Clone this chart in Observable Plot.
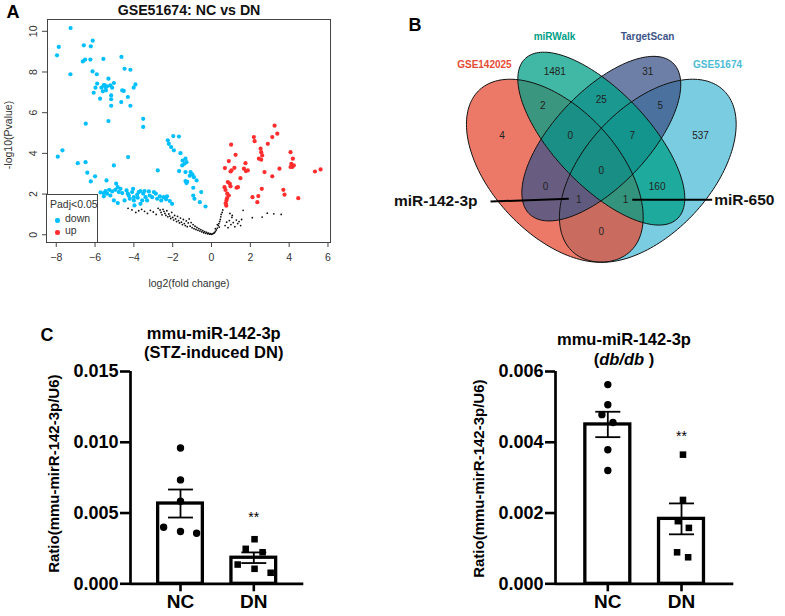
<!DOCTYPE html>
<html><head><meta charset="utf-8">
<script src="https://cdn.jsdelivr.net/npm/d3@7"></script>
<script src="https://cdn.jsdelivr.net/npm/@observablehq/plot@0.6"></script>
<style>
body{margin:0;background:#fff;}
#fig{position:relative;width:785px;height:616px;overflow:hidden;font-family:"Liberation Sans",Arial,sans-serif;background:#fff;}
.panel{position:absolute;}
.letter{position:absolute;font-weight:bold;font-size:18px;transform:translate(-50%,-50%);}
#legA{position:absolute;left:46px;top:194px;width:50px;height:47px;border:1px solid #444;background:#fff;font-size:10.5px;color:#333;}
#legA div{position:absolute;white-space:nowrap;}
#legA span.d{display:inline-block;width:4.5px;height:4.5px;border-radius:50%;position:absolute;left:8px;top:4px;}
</style></head><body><div id="fig"></div>
<script>
// ---------- Panel A data: volcano (log2FC, -log10 P) ----------
const volcanoTitle = "GSE51674: NC vs DN";
const xTicksA = [-8, -6, -4, -2, 0, 2, 4, 6];
const yTicksA = [0, 2, 4, 6, 8, 10];
const downPts = [
 [-7.26,10.16],[-7.87,9.23],[-7.96,8.82],[-6.12,9.54],[-6.22,9.26],[-6.58,9.31],[-6.63,8.52],[-6.51,8.61],[-6.24,8.61],
 [-5.57,8.64],[-4.64,8.74],[-4.48,8.16],[-4.18,8.11],[-7.27,7.89],[-6.13,8.03],[-5.91,7.89],[-5.31,7.67],[-5.03,7.46],
 [-5.89,7.43],[-5.98,7.23],[-5.67,7.23],[-5.50,7.34],[-5.38,7.30],[-5.21,7.34],[-5.12,7.23],[-5.44,7.10],[-5.60,7.05],
 [-6.07,6.98],[-5.74,6.69],[-5.17,6.85],[-5.17,6.66],[-5.17,6.34],[-4.60,7.10],[-4.52,7.07],[-3.92,7.39],[-4.01,7.23],
 [-4.31,6.77],[-4.65,6.52],[-4.18,6.34],[-5.31,5.59],[-6.48,5.46],[-3.52,5.70],[-3.52,5.30],[-5.55,7.35],[-5.45,7.25],
 [-7.92,3.84],[-7.68,4.15],[-6.89,3.52],[-6.49,3.57],[-6.40,3.05],[-6.22,2.62],[-6.00,2.87],[-5.03,3.41],[-4.30,3.82],
 [-2.77,3.16],[-5.41,2.67],
 [-5.72,2.08],[-5.55,2.05],[-5.46,2.15],[-5.38,2.02],[-5.27,2.21],[-5.12,2.13],[-4.95,2.21],[-4.91,2.51],[-4.83,2.34],
 [-4.78,2.10],[-4.69,2.26],[-5.03,1.69],[-4.83,1.56],[-4.48,1.69],[-4.38,2.18],[-4.31,2.02],[-4.26,1.92],[-4.04,2.26],
 [-4.00,1.85],[-4.00,1.69],[-3.97,1.44],[-3.75,2.10],[-3.66,2.15],[-3.52,2.02],[-3.45,2.15],[-3.40,1.85],[-3.32,1.69],
 [-3.23,2.13],[-3.18,1.93],[-3.06,1.85],[-2.97,2.10],[-2.87,2.02],[-2.80,1.77],[-2.66,1.89],[-2.59,1.69],[-2.46,1.85],
 [-2.34,1.74],[-2.29,1.89],[-2.15,1.66],[-2.03,1.52],[-4.21,1.77],[-3.66,1.52],[-3.57,1.69],[-4.09,2.10],[-3.83,1.98],
 [-3.80,1.82],[-4.60,2.05],[-5.21,1.93],[-5.55,1.89],
 [-1.97,4.85],[-1.68,4.83],[-2.25,4.64],[-2.20,4.47],[-2.08,4.31],[-1.94,4.15],[-1.60,4.01],[-1.49,3.65],[-1.34,3.74],
 [-1.29,3.57],[-1.51,3.41],[-1.39,3.49],[-1.67,3.13],[-1.34,3.08],[-1.08,3.08],[-0.99,2.97],[-0.91,2.83],[-0.77,2.67],
 [-1.34,2.64],[-1.29,2.54],[-0.94,2.31],[-0.53,2.10],[-0.94,1.93],[-0.88,1.77],[-0.60,1.60],[-0.31,1.39],[-1.12,2.90],
 [-1.25,2.60]
];
const upPts = [
 [1.01,4.43],[0.69,3.28],[0.89,3.62],[0.98,3.11],[1.03,3.16],[1.18,3.29],[1.24,3.93],[0.67,2.34],[0.84,2.59],[0.94,2.51],
 [0.98,2.38],[0.81,2.02],[0.89,1.93],[0.77,1.69],[0.76,1.43],[1.29,2.31],[1.36,2.34],[1.49,2.78],[1.67,3.25],[1.77,3.13],
 [1.75,3.52],[1.87,3.16],[2.18,4.80],[2.22,4.60],[2.53,4.23],[2.56,4.06],[2.61,3.90],[2.44,3.74],[2.56,3.69],[2.90,4.47],
 [3.13,4.80],[3.25,5.36],[3.39,4.97],[2.73,3.08],[3.13,2.87],[2.59,2.26],[2.11,1.85],[2.41,1.90],[2.36,1.60],[3.50,3.25],
 [4.07,4.06],[4.19,3.74],[4.11,3.49],[4.16,3.33],[4.24,3.41],[4.07,3.33],[3.70,2.21],[3.76,1.97],[4.47,1.80],[5.33,3.11],
 [5.62,3.21],[0.72,2.20],[0.80,1.80],[0.73,1.55]
];
const nsPts = [
 [-4.30,1.30],[-4.10,1.22],[-3.90,1.10],[-3.75,1.18],[-3.60,1.25],[-3.45,1.15],[-3.30,1.05],[-3.15,1.20],[-3.00,1.12],
 [-2.85,1.00],[-2.75,1.30],[-2.65,1.22],[-2.60,1.10],[-2.55,0.98],[-2.50,1.25],[-2.45,1.15],[-2.40,1.05],[-2.35,0.95],
 [-2.30,1.18],[-2.25,0.88],[-2.20,1.02],[-2.15,0.92],[-2.10,0.80],[-2.05,1.10],[-2.00,0.85],[-1.95,0.72],[-1.90,0.95],
 [-1.85,0.78],[-1.80,0.65],[-1.75,0.90],[-1.70,0.70],[-1.65,0.58],[-1.60,0.82],[-1.55,0.62],[-1.50,0.50],[-1.45,0.75],
 [-1.40,0.55],[-1.35,0.45],[-1.30,0.68],[-1.25,0.40],[-1.20,0.58],[-1.15,0.78],[-1.10,0.42],[-1.05,0.60],[-1.00,0.35],
 [-0.95,0.50],[-0.90,0.30],[-0.85,0.42],[-0.80,0.26],[-0.75,0.36],[-0.70,0.22],[-0.65,0.30],[-0.60,0.18],[-0.55,0.25],
 [-0.50,0.14],[-0.45,0.20],[-0.40,0.10],[-0.35,0.15],[-0.30,0.07],[-0.25,0.12],[-0.20,0.05],[-0.15,0.08],[-0.10,0.03],
 [-0.05,0.05],[0.00,0.02],[0.05,0.04],[0.10,0.07],[0.15,0.10],[0.20,0.16],[0.25,0.24],[0.30,0.33],[0.35,0.45],[0.38,0.55],
 [0.42,0.65],[0.45,0.75],[0.48,0.88],[0.50,1.00],[0.55,1.10],[0.58,1.22],[0.30,0.50],[0.40,0.38],[0.20,0.30],
 [0.70,0.45],[0.78,0.62],[0.85,0.35],[0.92,0.70],[1.00,0.50],[1.05,0.85],[1.12,0.60],[1.20,0.40],[1.28,0.72],[1.35,0.55],
 [1.42,0.65],[1.50,0.45],[1.55,0.75],[0.95,1.05],[1.63,1.20],[1.07,0.95],[2.10,0.84],[2.61,0.87],[2.87,1.06],[3.21,1.03],[3.59,1.00]
];

// ---------- Panel B data: Venn ----------
const vennSets = ["GSE142025", "miRWalk", "TargetScan", "GSE51674"];
const vennColors = ["#E64B35", "#00A087", "#3C5488", "#4DBBD5"];
const regionCounts = [1481, 25, 31, 2, 0, 0, 7, 5, 4, 0, 1, 0, 1, 160, 537];
const calloutNames = ["miR-142-3p", "miR-650"];

// ---------- Panel C data ----------
const groups = ["NC", "DN"];
const stzNC = [0.0096, 0.00734, 0.00583, 0.0040, 0.00369, 0.00357];
const stzDN = [0.00315, 0.00247, 0.00223, 0.00136, 0.00106, 0.00078];
const dbNC = [0.00563, 0.00506, 0.00478, 0.00456, 0.00379, 0.0032];
const dbDN = [0.00365, 0.00237, 0.00177, 0.00158, 0.00089, 0.00075];
const yTicksSTZ = [0, 0.005, 0.010, 0.015];
const yTicksDB = [0, 0.002, 0.004, 0.006];
const yLabelC = "Ratio(mmu-mirR-142-3p/U6)";

// ---------- layout (positions only) ----------
const FONT = "'Liberation Sans', Arial, Helvetica, sans-serif";
const fig = document.getElementById("fig");
function place(el, left, top) { el.classList.add("panel"); el.style.left = left + "px"; el.style.top = top + "px"; fig.appendChild(el); return el; }
const xy = d => ({x: d[0], y: d[1]});

// Panel A
const volcano = Plot.plot({
  width: 340, height: 300,
  marginLeft: 47, marginRight: 10, marginTop: 19, marginBottom: 58,
  style: {fontFamily: FONT, fontSize: "10.5px", color: "#333", background: "transparent"},
  x: {domain: [-8.45, 6.13]},
  y: {domain: [-0.38, 10.58]},
  marks: [
    Plot.frame({stroke: "#444"}),
    Plot.axisX({ticks: xTicksA, tickSize: 5, tickPadding: 6, label: null, stroke: "#444"}),
    Plot.axisY({ticks: yTicksA, tickSize: 5, tickPadding: 6, tickRotate: -90, label: null, stroke: "#444"}),
    Plot.dot(nsPts.map(xy), {x: "x", y: "y", r: 0.9, fill: "#111", stroke: "none"}),
    Plot.dot(downPts.map(xy), {x: "x", y: "y", r: 2.1, fill: "#00BFFF", stroke: "none"}),
    Plot.dot(upPts.map(xy), {x: "x", y: "y", r: 2.1, fill: "#FF2D2D", stroke: "none"}),
    Plot.text([volcanoTitle], {text: d => d, frameAnchor: "top", lineAnchor: "middle", dy: -9, fontWeight: "bold", fontSize: 14.2, fill: "#111"}),
    Plot.text(["log2(fold change)"], {text: d => d, frameAnchor: "bottom", lineAnchor: "middle", dy: 41, fontSize: 10.5}),
    Plot.text(["-log10(Pvalue)"], {text: d => d, frameAnchor: "left", textAnchor: "middle", lineAnchor: "middle", dx: -39, dy: 4, rotate: -90, fontSize: 10.5})
  ]
});
place(volcano, 0, 0);

// Legend of panel A
const leg = document.createElement("div");
leg.id = "legA";
leg.innerHTML = `<div style="left:3px;top:3px">Padj&lt;0.05</div>
<div style="left:0;top:19px;width:50px"><span class="d" style="background:#00BFFF;left:8px"></span><span style="position:absolute;left:18px;top:-2px">down</span></div>
<div style="left:0;top:31px;width:50px"><span class="d" style="background:#FF2D2D;left:8px"></span><span style="position:absolute;left:18px;top:-2px">up</span></div>`;
fig.appendChild(leg);

// Panel B: Venn (R VennDiagram quad layout)
const ellipses = [ // drawing order
  {i: 3, cx: 0.65, cy: 0.47, a: 0.35, b: 0.20, rot: 45},
  {i: 0, cx: 0.35, cy: 0.47, a: 0.35, b: 0.20, rot: 135},
  {i: 2, cx: 0.50, cy: 0.57, a: 0.33, b: 0.15, rot: 45},
  {i: 1, cx: 0.50, cy: 0.57, a: 0.35, b: 0.15, rot: 135}
];
function ellipsePts(e) {
  const th = e.rot * Math.PI / 180;
  return d3.range(0, 360, 2).map(deg => {
    const t = deg * Math.PI / 180;
    return {x: e.cx + e.a * Math.cos(t) * Math.cos(th) - e.b * Math.sin(t) * Math.sin(th),
            y: e.cy + e.a * Math.cos(t) * Math.sin(th) + e.b * Math.sin(t) * Math.cos(th)};
  });
}
const regionPos = [[0.35,0.777],[0.50,0.692],[0.65,0.777],[0.311,0.673],[0.40,0.58],[0.50,0.47],[0.60,0.58],[0.69,0.673],
  [0.18,0.58],[0.32,0.421],[0.427,0.379],[0.50,0.279],[0.578,0.379],[0.68,0.421],[0.82,0.58]];
const regions = regionCounts.map((c, k) => ({c, x: regionPos[k][0], y: regionPos[k][1]}));
const setLabelPos = [[0.123,0.801],[0.349,0.888],[0.649,0.888],[0.875,0.801]];
const setLabels = vennSets.map((s, k) => ({s, col: vennColors[k], x: setLabelPos[k][0], y: setLabelPos[k][1]}));
const callouts = [
  {name: calloutNames[0], x1: 0.1426, y1: 0.374, x2: 0.395, y2: 0.3826, tx: 0.1006, ty: 0.377, anchor: "end"},
  {name: calloutNames[1], x1: 0.5997, y1: 0.3794, x2: 0.8577, y2: 0.3794, tx: 0.864, ty: 0.379, anchor: "start"}
];
const venn = Plot.plot({
  width: 405, height: 310, margin: 0,
  style: {fontFamily: FONT, background: "transparent"},
  x: {domain: [-0.2123, 1.0942], axis: null},
  y: {domain: [0.0346, 1.0003], axis: null},
  marks: [
    ...ellipses.map(e => Plot.line(ellipsePts(e), {x: "x", y: "y", curve: "linear-closed", fill: vennColors[e.i], fillOpacity: 0.75, stroke: "none"})),
    ...ellipses.map(e => Plot.line(ellipsePts(e), {x: "x", y: "y", curve: "linear-closed", fill: "none", stroke: "#111", strokeWidth: 1})),
    Plot.text(regions, {x: "x", y: "y", text: d => String(d.c), fontSize: 10, fill: "#222"}),
    Plot.text(setLabels, {x: "x", y: "y", text: "s", fill: "col", fontSize: 10, fontWeight: "bold"}),
    Plot.link(callouts, {x1: "x1", y1: "y1", x2: "x2", y2: "y2", stroke: "#000", strokeWidth: 2}),
    Plot.text(callouts.filter(d => d.anchor === "end"), {x: "tx", y: "ty", text: "name", textAnchor: "end", fontSize: 15.5, fontWeight: "bold", fill: "#111"}),
    Plot.text(callouts.filter(d => d.anchor === "start"), {x: "tx", y: "ty", text: "name", textAnchor: "start", fontSize: 15.5, fontWeight: "bold", fill: "#111"})
  ]
});
place(venn, 380, 0);

// Panel C bar charts
function barPanel({nc, ncJit, dn, dnJit, yMax, yTicks, xDomain, width, marginLeft, marginRight, title1, title2, titleDx, t1dy, t2dy, starY, labDy}) {
  const pts = [
    ...nc.map((v, k) => ({x: 1 + ncJit[k], v, sym: "circle"})),
    ...dn.map((v, k) => ({x: 2 + dnJit[k], v, sym: "square"}))
  ];
  const stats = [nc, dn].map((vals, k) => ({x: k + 1, mean: d3.mean(vals), sem: d3.deviation(vals) / Math.sqrt(vals.length)}));
  return Plot.plot({
    width, height: 306, marginLeft, marginRight, marginTop: 61, marginBottom: 32.7,
    style: {fontFamily: FONT, fontWeight: "bold", color: "#000", background: "transparent"},
    x: {domain: xDomain},
    y: {domain: [0, yMax]},
    symbol: {domain: ["circle", "square"], range: ["circle", "square"]},
    marks: [
      Plot.rect(stats, {x1: d => d.x - 0.305, x2: d => d.x + 0.305, y1: 0, y2: "mean", fill: "white", stroke: "#000", strokeWidth: 3.3}),
      Plot.link(stats, {x1: "x", x2: "x", y1: d => d.mean - d.sem, y2: d => d.mean + d.sem, stroke: "#000", strokeWidth: 1.8}),
      Plot.link(stats, {x1: d => d.x - 0.17, x2: d => d.x + 0.17, y1: d => d.mean + d.sem, y2: d => d.mean + d.sem, stroke: "#000", strokeWidth: 1.8}),
      Plot.link(stats, {x1: d => d.x - 0.17, x2: d => d.x + 0.17, y1: d => d.mean - d.sem, y2: d => d.mean - d.sem, stroke: "#000", strokeWidth: 1.8}),
      Plot.dot(pts, {x: "x", y: "v", symbol: "sym", r: 3.7, fill: "#000", stroke: "none"}),
      Plot.axisY({ticks: yTicks, tickFormat: d3.format(".3f"), tickSize: 10, tickPadding: 2, strokeWidth: 2.6, fontSize: 18, label: null}),
      Plot.axisX({ticks: [1, 2], tickFormat: k => groups[k - 1], tickSize: 8, tickPadding: 3, strokeWidth: 2.6, fontSize: 19, label: null}),
      Plot.ruleY([0], {stroke: "#000", strokeWidth: 2.7}),
      Plot.ruleX([xDomain[0]], {y1: 0, y2: yMax, stroke: "#000", strokeWidth: 2.7}),
      Plot.text(["**"], {x: 2, y: starY, text: d => d, fontSize: 14, fontWeight: "normal"}),
      Plot.text([title1], {x: 1.5, frameAnchor: "top", lineAnchor: "middle", dy: t1dy, dx: titleDx, text: d => d, fontSize: 16.5}),
      Plot.text([title2], {x: 1.5, frameAnchor: "top", lineAnchor: "middle", dy: t2dy, dx: titleDx, text: d => d, fontSize: 16.5}),
      Plot.text([yLabelC], {frameAnchor: "left", textAnchor: "middle", lineAnchor: "middle", dx: -76.7, dy: labDy, rotate: -90, text: d => d, fontSize: 15})
    ]
  });
}
const left = barPanel({
  nc: stzNC, ncJit: [0, 0, 0, -0.23, 0, 0.22], dn: stzDN, dnJit: [0.01, -0.11, 0.12, -0.22, 0.01, 0.23],
  yMax: 0.015, yTicks: yTicksSTZ, xDomain: [0.318, 2.682], width: 330, marginLeft: 130, marginRight: 26.7,
  title1: "mmu-miR-142-3p", title2: "(STZ-induced DN)", titleDx: -3.4, t1dy: -37.7, t2dy: -18.3, starY: 0.0047, labDy: -4
});
place(left, 0, 310);
const right = barPanel({
  nc: dbNC, ncJit: [0, 0, -0.08, 0.07, 0, 0], dn: dbDN, dnJit: [0.02, 0.02, -0.05, 0.1, -0.06, 0.09],
  yMax: 0.006, yTicks: yTicksDB, xDomain: [0.29, 2.7096], width: 385, marginLeft: 155, marginRight: 51.7,
  title1: "mmu-miR-142-3p", title2: "(db/db )", titleDx: -20.7, t1dy: -31.7, t2dy: -11.7, starY: 0.00416, labDy: 1
});
place(right, 400, 310);
// italic db/db in the second title line
right.querySelectorAll("text").forEach(t => {
  if (t.textContent === "(db/db )") {
    const ns = "http://www.w3.org/2000/svg";
    t.textContent = "";
    [["(", "normal"], ["db/db", "italic"], [" )", "normal"]].forEach(([s, st]) => {
      const sp = document.createElementNS(ns, "tspan"); sp.textContent = s; sp.setAttribute("font-style", st); t.appendChild(sp);
    });
  }
});

// panel letters
[["A", 13, 12], ["B", 415, 25], ["C", 47, 335]].forEach(([s, x, y]) => {
  const d = document.createElement("div"); d.className = "letter"; d.textContent = s;
  d.style.left = x + "px"; d.style.top = y + "px"; fig.appendChild(d);
});
</script></body></html>
